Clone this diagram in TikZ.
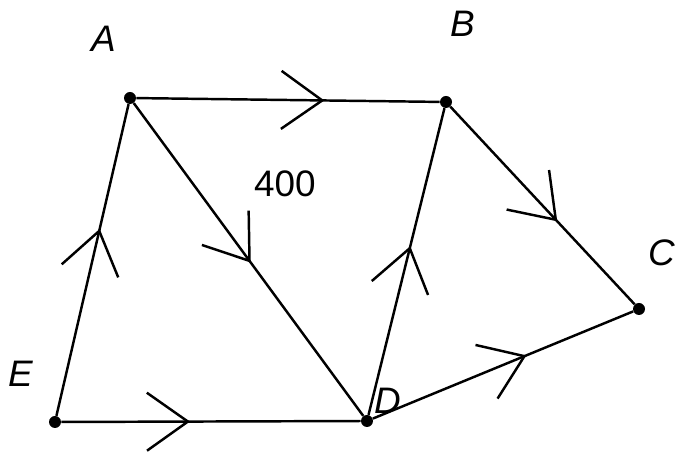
\documentclass[tikz,border=0pt]{standalone}
\usepackage{fontspec}
\setmainfont{Liberation Sans}
\usetikzlibrary{arrows.meta,decorations.markings}

\begin{document}
\begin{tikzpicture}[
    x=0.02cm, y=-0.02cm,
    vertex/.style={circle, fill=black, inner sep=0pt, minimum size=0.24cm},
    edge/.style={line width=1.4pt, black},
    flow/.style={postaction={decorate}, decoration={markings,
                 mark=at position #1 with {\arrow{Straight Barb[length=0.82cm,
                 width=1.16cm, line width=1.4pt]}}}},
    vlabel/.style={font=\fontsize{21}{25}\selectfont\itshape},
    wlabel/.style={font=\fontsize{21}{25}\selectfont},
]

% --- Frame ---
\useasboundingbox (0,0) rectangle (677,455);

% --- Vertices ---
\node[vertex] (A) at (130,98)  {};
\node[vertex] (B) at (446,102) {};
\node[vertex] (C) at (639,309) {};
\node[vertex] (D) at (367,421) {};
\node[vertex] (E) at (55,422)  {};

% --- Labels ---
\node[vlabel] (lA) at (104,39)  {A};
\node[vlabel] (lB) at (463,24)  {B};
\node[vlabel] (lC) at (662,253) {C};
\node[vlabel] (lD) at (388,401) {D};
\node[vlabel] (lE) at (21,374)  {E};
\node[wlabel] (w)  at (285,184) {400};

% --- Edges ---
\draw[edge, flow=0.62] (A) -- (B);
\draw[edge, flow=0.58] (B) -- (C);
\draw[edge, flow=0.51] (A) -- (D);
\draw[edge, flow=0.55] (D) -- (B);
\draw[edge, flow=0.60] (E) -- (A);
\draw[edge, flow=0.43] (E) -- (D);
\draw[edge, flow=0.59] (D) -- (C);

\end{tikzpicture}
\end{document}
